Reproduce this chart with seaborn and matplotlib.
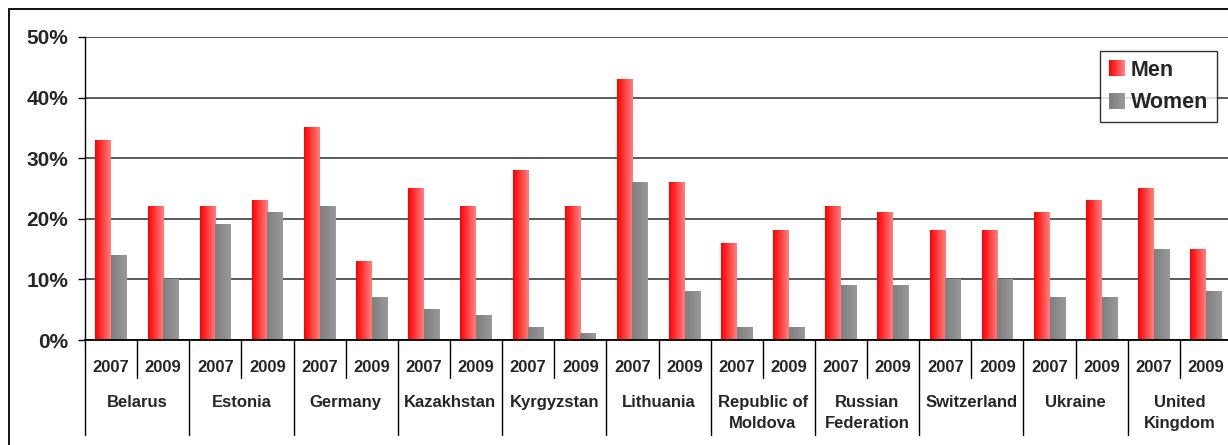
import numpy as np
import pandas as pd
import matplotlib
matplotlib.use("Agg")
import matplotlib.pyplot as plt
import seaborn as sns
from matplotlib.patches import Rectangle
from matplotlib.legend_handler import HandlerBase
from matplotlib.colors import LinearSegmentedColormap, to_rgb

# data (percent)
countries = ["Belarus", "Estonia", "Germany", "Kazakhstan", "Kyrgyzstan", "Lithuania",
             "Republic of\nMoldova", "Russian\nFederation", "Switzerland", "Ukraine",
             "United\nKingdom"]
years = ["2007", "2009"]
men = [33, 22, 22, 23, 35, 13, 25, 22, 28, 22, 43, 26, 16, 18, 22, 21, 18, 18, 21, 23, 25, 15]
women = [14, 10, 19, 21, 22, 7, 5, 4, 2, 1, 26, 8, 2, 2, 9, 9, 10, 10, 7, 7, 15, 8]
y_ticks = [0, 10, 20, 30, 40, 50]

sns.set_style("white")
plt.rcParams['font.family'] = ['Liberation Sans', 'DejaVu Sans']
plt.rcParams['font.weight'] = 'bold'

slots = [c + " " + y for c in countries for y in years]
df = pd.DataFrame({
    "slot": slots * 2,
    "sex": ["Men"] * len(slots) + ["Women"] * len(slots),
    "value": men + women,
})

W, H = 1228, 445
fig = plt.figure(figsize=(W / 100, H / 100), dpi=100)
ax = fig.add_axes([85 / W, 105 / H, 1147 / W, 303 / H])

red0, red1 = "#ff0000", "#ff8080"
gray0, gray1 = "#7f7f7f", "#999999"

sns.barplot(data=df, x="slot", y="value", hue="sex", order=slots,
            hue_order=["Men", "Women"], palette=[red0, gray0],
            width=0.6, gap=0, ax=ax, legend=False, saturation=1, zorder=3)

# gradient fill on each bar
grad = np.linspace(0, 1, 64).reshape(1, -1)
cmaps = [LinearSegmentedColormap.from_list("r", [red0, red1]),
         LinearSegmentedColormap.from_list("g", [gray0, gray1])]
for cont, cm in zip(ax.containers, cmaps):
    for bar in cont:
        bar.set_edgecolor('none')
        x0, w, h = bar.get_x(), bar.get_width(), bar.get_height()
        ax.imshow(grad, extent=[x0, x0 + w, 0, h], aspect='auto', cmap=cm,
                  zorder=4, interpolation='bilinear')

ax.set_xlim(-0.5, len(slots) - 0.5)
ax.set_ylim(0, 50)
ax.set_yticks(y_ticks)
ax.set_yticklabels([f"{t}%" for t in y_ticks], fontsize=15, fontweight='bold')
ax.yaxis.grid(True, color='#4d4d4d', lw=1.3, zorder=0)
ax.set_axisbelow(True)
ax.tick_params(axis='y', left=True, length=5, width=1, color='black', pad=7)
ax.set_xticks([])
ax.set_xlabel("")
ax.set_ylabel("")
for s in ["top", "right"]:
    ax.spines[s].set_visible(False)
ax.spines["left"].set_color("black")
ax.spines["bottom"].set_color("black")
ax.spines["left"].set_linewidth(1)
ax.spines["bottom"].set_linewidth(1.3)
ax.spines["bottom"].set_zorder(6)

# two level category axis
trans = ax.get_xaxis_transform()
yr_line = -38 / 303
ct_line = -95 / 303
for i, s in enumerate(slots):
    ax.text(i, -27 / 303, s.split(" ")[-1], transform=trans, ha='center', va='center',
            fontsize=12, fontweight='bold')
for i in range(len(slots) + 1):
    bottom = ct_line if i % 2 == 0 else yr_line
    ax.plot([i - 0.5, i - 0.5], [0, bottom], transform=trans, color='black', lw=1,
            clip_on=False)
for j, c in enumerate(countries):
    ax.text(2 * j + 0.5, -55 / 303, c, transform=trans, ha='center', va='top',
            fontsize=12, fontweight='bold', linespacing=1.5)


class GradHandler(HandlerBase):
    def __init__(self, c0, c1):
        super().__init__()
        self.c0, self.c1 = np.array(to_rgb(c0)), np.array(to_rgb(c1))

    def create_artists(self, legend, orig_handle, xdescent, ydescent, width, height,
                       fontsize, trans):
        n = 16
        arts = []
        for k in range(n):
            col = self.c0 + (self.c1 - self.c0) * k / (n - 1)
            arts.append(Rectangle((-xdescent + width * k / n, -ydescent), width / n * 1.05,
                                  height, facecolor=col, edgecolor='none', transform=trans))
        return arts


h_men = Rectangle((0, 0), 1, 1)
h_women = Rectangle((0, 0), 1, 1, facecolor='gray')
leg = ax.legend([h_men, h_women], ["Men", "Women"],
                handler_map={h_men: GradHandler(red0, red1), h_women: GradHandler(gray0, gray1)},
                loc='upper right', bbox_to_anchor=(1217 / W, 1 - 51 / H),
                bbox_transform=fig.transFigure, borderaxespad=0,
                prop={'size': 15.5, 'weight': 'bold'}, frameon=True, fancybox=False,
                handlelength=0.72, handleheight=0.72, handletextpad=0.3,
                labelspacing=0.55, borderpad=0.4)
leg.get_frame().set_edgecolor('black')
leg.get_frame().set_linewidth(1)
leg.set_zorder(10)

# outer chart border
fig.add_artist(Rectangle((8.7 / W, -0.2), 1.2, 1.2 - 9 / H, transform=fig.transFigure,
                         fill=False, edgecolor='black', lw=1.3))

fig.savefig("out.png", dpi=100)
